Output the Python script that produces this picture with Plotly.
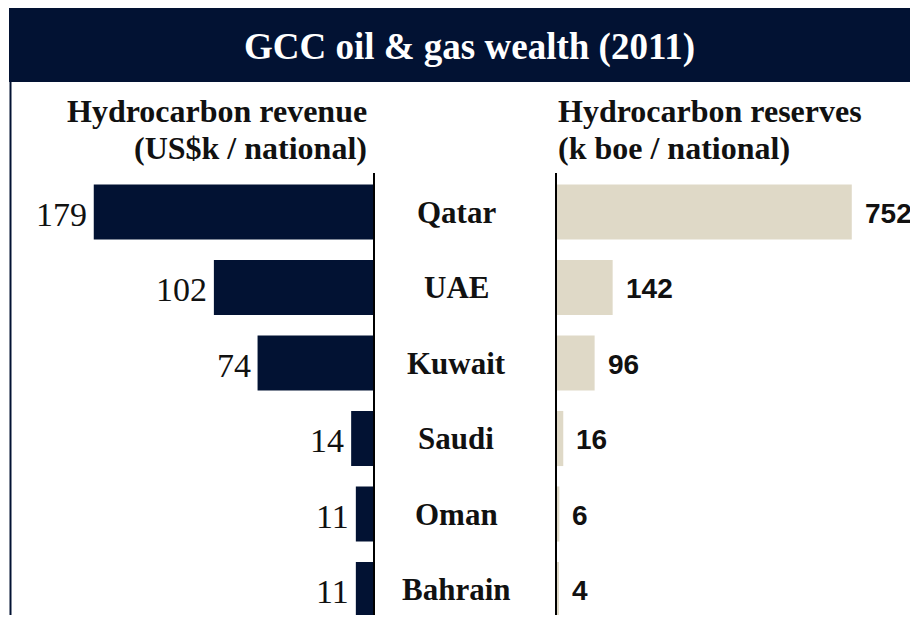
import plotly.graph_objects as go

categories = ["Qatar", "UAE", "Kuwait", "Saudi", "Oman", "Bahrain"]
revenue = [179, 102, 74, 14, 11, 11]          # US$k / national
reserves = [752, 142, 96, 16, 6, 4]           # k boe / national
title_text = "GCC oil & gas wealth (2011)"
left_title = ["Hydrocarbon revenue", "(US$k / national)"]
right_title = ["Hydrocarbon reserves", "(k boe / national)"]

# page has an 8px body margin: figure starts at page (8, 8)
OFF = 8
W, H = 918 - OFF, 623 - 2 * OFF
NAVY = "#021233"
BEIGE = "#DFD9C7"
SERIF = "Liberation Serif, Times New Roman, serif"
SANS = "Liberation Sans, Arial, sans-serif"

def px(x):
    return (x - OFF) / W

def py(y):
    return 1 - (y - OFF) / H

# pixel scales
left_px_per_unit = 1.56
right_px_per_unit = 0.392
left_range = (373 - OFF) / left_px_per_unit
right_range = (918 - 557) / right_px_per_unit

fig = go.Figure()

fig.add_trace(go.Bar(
    y=categories, x=revenue, orientation="h",
    marker=dict(color=NAVY, line=dict(width=0)),
    width=0.73, xaxis="x", yaxis="y", hoverinfo="skip", cliponaxis=False,
))
fig.add_trace(go.Bar(
    y=categories, x=reserves, orientation="h",
    marker=dict(color=BEIGE, line=dict(width=0)),
    width=0.73, xaxis="x2", yaxis="y2", hoverinfo="skip", cliponaxis=False,
))

# bar centres: page y = 212 + 75.5 * i ; axis lines from y=173 to bottom
bottom_page = OFF + H
top_i = (173 - 212) / 75.5
bot_i = (bottom_page - 212) / 75.5
y_range = [bot_i, top_i]
y_dom = [0, py(173)]

fig.update_layout(
    width=W, height=H,
    margin=dict(l=0, r=0, t=0, b=0),
    paper_bgcolor="white", plot_bgcolor="rgba(0,0,0,0)",
    showlegend=False,
    xaxis=dict(domain=[0, px(373)], range=[left_range, 0], visible=False, fixedrange=True),
    xaxis2=dict(domain=[px(557), 1], range=[0, right_range], visible=False, fixedrange=True),
    yaxis=dict(domain=y_dom, anchor="x", side="right", type="category",
               categoryorder="array", categoryarray=categories, range=y_range,
               showline=True, linecolor="black", linewidth=2, showticklabels=False,
               ticks="", showgrid=False, zeroline=False, fixedrange=True),
    yaxis2=dict(domain=y_dom, anchor="x2", side="left", type="category",
                categoryorder="array", categoryarray=categories, range=y_range,
                showline=True, linecolor="black", linewidth=2, showticklabels=False,
                ticks="", showgrid=False, zeroline=False, fixedrange=True),
)

shapes = [
    # title banner
    dict(type="rect", xref="paper", yref="paper", x0=px(9), x1=1, y0=py(82), y1=py(4),
         fillcolor=NAVY, line=dict(width=0), layer="below"),
    dict(type="line", xref="paper", yref="paper", x0=px(9), x1=1, y0=py(3.5), y1=py(3.5),
         line=dict(color="#8a95a8", width=1)),
    # left frame line
    dict(type="line", xref="paper", yref="paper", x0=px(10.5), x1=px(10.5), y0=0, y1=py(82),
         line=dict(color=NAVY, width=2)),
]
fig.update_layout(shapes=shapes)

annotations = [
    dict(text=f"<b>{title_text}</b>", xref="paper", yref="paper", x=px(469), y=py(47),
         xanchor="center", yanchor="middle", showarrow=False,
         font=dict(family=SERIF, size=37, color="white")),
]
for line, yc in zip(left_title, [111, 148]):
    annotations.append(dict(text=f"<b>{line}</b>", xref="paper", yref="paper", x=px(369), y=py(yc),
                            xanchor="right", yanchor="middle", showarrow=False,
                            font=dict(family=SERIF, size=32, color="#111111")))
for line, yc in zip(right_title, [111, 148]):
    annotations.append(dict(text=f"<b>{line}</b>", xref="paper", yref="paper", x=px(556), y=py(yc),
                            xanchor="left", yanchor="middle", showarrow=False,
                            font=dict(family=SERIF, size=32, color="#111111")))
for c, v in zip(categories, revenue):
    annotations.append(dict(text=str(v), xref="x", yref="y", x=v, y=c,
                            xanchor="right", yanchor="middle", xshift=-5, yshift=-2,
                            showarrow=False,
                            font=dict(family=SERIF, size=34, color="#111111")))
    annotations.append(dict(text=f"<b>{c}</b>", xref="paper", yref="y", x=px(456), y=c,
                            xanchor="center", yanchor="middle", showarrow=False,
                            font=dict(family=SERIF, size=31, color="#111111")))
for c, v in zip(categories, reserves):
    annotations.append(dict(text=f"<b>{v}</b>", xref="x2", yref="y2", x=v, y=c,
                            xanchor="left", yanchor="middle", xshift=11, yshift=-1,
                            showarrow=False,
                            font=dict(family=SANS, size=28, color="#111111")))
fig.update_layout(annotations=annotations)

fig.write_html("out.html")
